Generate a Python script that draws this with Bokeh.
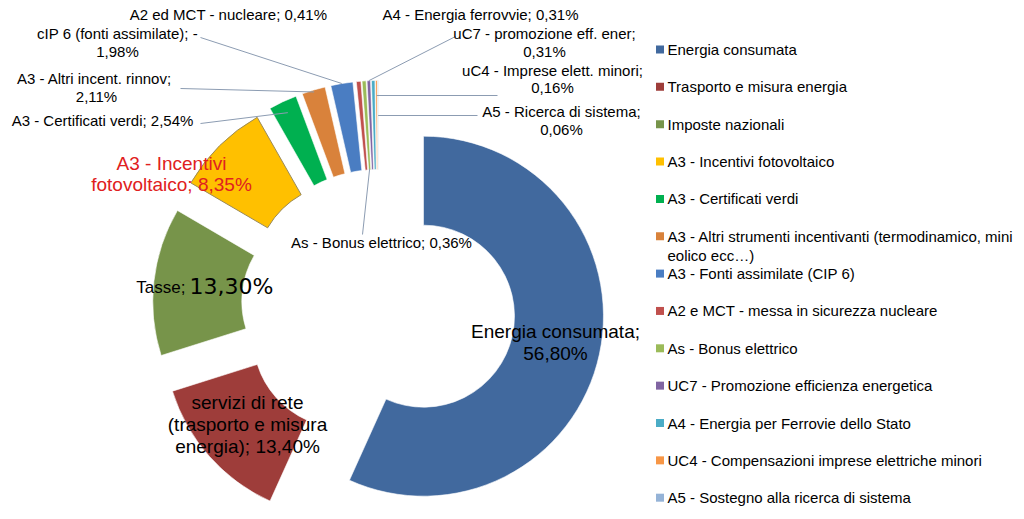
import numpy as np
from bokeh.plotting import figure
from bokeh.models import Range1d
from bokeh.core.properties import value
from bokeh.embed import file_html
from bokeh.resources import INLINE

W, H = 1024, 519

# ---------------- data ----------------
legend_names = [
    "Energia consumata",
    "Trasporto e misura energia",
    "Imposte nazionali",
    "A3 - Incentivi fotovoltaico",
    "A3 - Certificati verdi",
    "A3 - Altri strumenti incentivanti (termodinamico, mini|eolico ecc…)",
    "A3 - Fonti assimilate (CIP 6)",
    "A2 e MCT - messa in sicurezza nucleare",
    "As - Bonus elettrico",
    "UC7 - Promozione efficienza energetica",
    "A4 - Energia per Ferrovie dello Stato",
    "UC4 - Compensazioni imprese elettriche minori",
    "A5 - Sostegno alla ricerca di sistema",
]
shares = [56.80, 13.40, 13.30, 8.35, 2.54, 2.11, 1.98, 0.41, 0.36, 0.31, 0.31, 0.16, 0.06]
label_names = [
    "Energia consumata;|",
    "servizi di rete|(trasporto e misura|energia); ",
    "Tasse; ",
    "A3 - Incentivi|fotovoltaico; ",
    "A3 - Certificati verdi; ",
    "A3 -  Altri incent. rinnov;|",
    "cIP 6 (fonti assimilate); -|",
    "A2 ed MCT - nucleare; ",
    "As - Bonus elettrico; ",
    "uC7 - promozione eff. ener;|",
    "A4 - Energia ferrovvie; ",
    "uC4 - Imprese elett. minori;|",
    "A5 - Ricerca di sistema;|",
]

# ---------------- styles / layout ----------------
colors = ["#41699E", "#9E3D3A", "#77944A", "#FFC000", "#00B050", "#D9823B",
          "#4A7DC2", "#C0504D", "#9BBB59", "#8064A2", "#4BACC6", "#F79646", "#95B3D7"]
FONT = "Liberation Sans"
TXT = "#000000"
PX, PY = 378, 306          # pie centre (screen px)
EXPLODE = 46
R_OUT, R_IN = 180, 91

# label layout: (centre x, first-line y, font px, line height, colour)
label_layout = [
    (555, 331, 19, 22, TXT),
    (247, 402, 19, 22, TXT),
    None,
    (171, 163, 19, 21, "#E02020"),
    (102, 120, 15, 18, TXT),
    (96, 78, 15, 18, TXT),
    (117, 33, 15, 18, TXT),
    (228, 14, 15, 18, TXT),
    (381, 242, 15, 18, TXT),
    (544, 33, 15, 18, TXT),
    (480, 14, 15, 18, TXT),
    (552, 70, 15, 17, TXT),
    (561, 111, 15, 18, TXT),
]
# leader lines: (slice index, anchor radius on slice, label end x, label end y)
leaders = [(6, 180, 200, 37), (5, 178, 180, 88), (4, 168, 200, 123),
           (9, 180, 455, 36), (11, 165, 497, 95), (12, 145, 477, 115),
           (8, 92, 362, 234)]


def Y(ys):
    return H - np.asarray(ys, dtype=float)


p = figure(width=W, height=H, x_range=Range1d(0, W), y_range=Range1d(0, H),
           x_axis_type=None, y_axis_type=None, toolbar_location=None,
           output_backend="svg", min_border=0, outline_line_color=None,
           background_fill_color="white", border_fill_color="white")
p.grid.visible = False

vals = np.array(shares)
cum = np.concatenate([[0.0], np.cumsum(vals / vals.sum())]) * 360.0
t1, t2 = cum[:-1], cum[1:]
bis = np.radians((t1 + t2) / 2)
cx = PX + EXPLODE * np.sin(bis)
cy = (H - PY) + EXPLODE * np.cos(bis)
start = np.radians(90 - t2)
end = np.radians(90 - t1)

line_cols = ["white"] * len(vals)
line_cols[3] = "#9A8A5A"
line_ws = [0.6] * len(vals)
line_ws[3] = 1.0
p.annular_wedge(x=cx, y=cy, inner_radius=R_IN, outer_radius=R_OUT,
                start_angle=start, end_angle=end, fill_color=colors,
                line_color=line_cols, line_width=line_ws)

# leader lines
for idx, r, ex, ey in leaders:
    ax = cx[idx] + r * np.sin(bis[idx])
    ay = cy[idx] + r * np.cos(bis[idx])
    p.line([ax, ex], [ay, H - ey], line_color="#8C9CB2", line_width=1)


def pct(v):
    return f"{v:.2f}".replace(".", ",") + "%"


# slice labels
for i, name in enumerate(label_names):
    lay = label_layout[i]
    if lay is None:
        continue
    x0, y0, fs, lh, col = lay
    lines = (name + pct(shares[i])).split("|")
    for k, ln in enumerate(lines):
        p.text(x=[x0], y=Y([y0 + k * lh]), text=[ln], text_align="center",
               text_baseline="middle", text_font=value(FONT),
               text_font_size=f"{fs}px", text_color=col)

# Tasse label (mixed sizes)
p.text(x=[185], y=Y([287]), text=[label_names[2].strip()], text_align="right",
       text_baseline="middle", text_font=value(FONT), text_font_size="17px",
       text_color=TXT)
p.text(x=[189], y=Y([286]), text=[pct(shares[2])], text_align="left",
       text_baseline="middle", text_font=value("DejaVu Sans"), text_font_size="22px",
       text_color=TXT)

# legend
ly = 49 + np.arange(len(legend_names)) * 37.35
p.rect(x=[659.5] * len(legend_names), y=Y(ly), width=8, height=8,
       fill_color=colors, line_color=None)
for i, nm in enumerate(legend_names):
    for k, ln in enumerate(nm.split("|")):
        p.text(x=[667], y=Y([ly[i] + k * 19]), text=[ln], text_align="left",
               text_baseline="middle", text_font=value(FONT),
               text_font_size="15px", text_color=TXT)

open("out.html", "w").write(file_html(p, INLINE))
